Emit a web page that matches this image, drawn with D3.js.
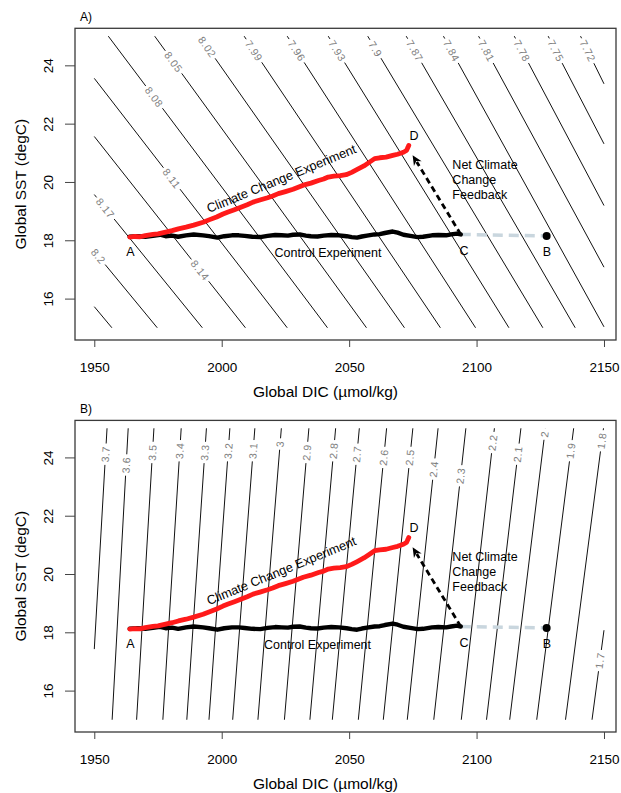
<!DOCTYPE html>
<html><head><meta charset="utf-8">
<script src="https://cdn.jsdelivr.net/npm/d3@7"></script>
<style>body{margin:0;background:#fff}svg{display:block}text{font-family:"Liberation Sans",Arial,Helvetica,sans-serif}</style>
</head><body><svg id="c" width="621" height="793"></svg>
<script>
// ---------------- data ----------------
const xTicks = [1950, 2000, 2050, 2100, 2150];
const yTicks = [16, 18, 20, 22, 24];
const gridDic = [1950, 2150];
const gridSst = [15, 25];

// Panel A: pH contours (DIC at SST=25 and at SST=15, label SST)
const phLevels   = ["8.23","8.2","8.17","8.14","8.11","8.08","8.05","8.02","7.99","7.96","7.93","7.9","7.87","7.84","7.81","7.78","7.75","7.72"];
const phDicTop   = [1861.5,1880.4,1899.6,1918.9,1937.2,1955.5,1973.7,1991.3,2008.8,2025.7,2041.8,2057.3,2072.4,2087.0,2100.8,2114.8,2128.1,2140.8];
const phDicBot   = [1956.9,1974.7,1992.4,2009.3,2025.7,2041.5,2056.8,2071.7,2085.8,2099.6,2112.7,2126.0,2138.7,2150.2,2162.9,2175.4,2187.4,2197.1];
const phLabelSst = [null,17.45,19.1,16.97,20.12,22.91,24.11,24.63,24.5,24.5,24.5,24.56,24.5,24.5,24.5,24.5,24.5,24.5];

// Panel B: saturation-state contours
const omLevels   = ["3.7","3.6","3.5","3.4","3.3","3.2","3.1","3","2.9","2.8","2.7","2.6","2.5","2.4","2.3","2.2","2.1","2","1.9","1.8","1.7"];
const omDicTop   = [1955.0,1963.3,1973.4,1984.1,1994.0,2003.2,2013.0,2023.4,2034.2,2044.7,2054.0,2064.7,2075.0,2084.9,2095.8,2107.0,2117.4,2127.0,2138.1,2149.8,2160.6];
const omDicBot   = [1948.4,1957.0,1966.6,1976.9,1986.3,1995.0,2004.3,2014.2,2024.6,2034.6,2043.4,2053.6,2063.4,2072.8,2083.2,2094.0,2103.9,2113.0,2123.6,2134.9,2145.3];
const omLabelSst = [24.11,23.74,24.17,24.23,24.17,24.23,24.23,24.46,24.17,24.23,24.11,24.0,24.0,23.6,23.37,24.51,24.11,24.8,24.23,24.57,17.03];

// Control experiment (DIC, SST)
const ctrlDic = [1963.9,1967,1970,1973,1975.8,1978,1980.5,1982.9,1986,1989,1992.7,1995,1998.3,2001,2004,2006.7,2009,2012,2015.1,2018,2021,2023.5,2026,2028,2030.6,2033,2035,2037.6,2040,2043,2046,2049,2051,2053.1,2055,2057,2060,2062,2064,2067.1,2069,2071.3,2074,2076.9,2079,2082.5,2085,2088.1,2090,2092.3,2093.8];
const ctrlSst = [18.12,18.14,18.12,18.15,18.19,18.14,18.16,18.12,18.17,18.2,18.17,18.14,18.09,18.14,18.17,18.17,18.15,18.12,18.11,18.15,18.18,18.17,18.16,18.19,18.2,18.16,18.14,18.13,18.16,18.18,18.17,18.14,18.11,18.09,18.13,18.16,18.2,18.21,18.25,18.3,18.26,18.19,18.15,18.11,18.12,18.17,18.18,18.17,18.2,18.23,18.2];

// Climate change experiment (DIC, SST)
const ccDic = [1963.9,1966,1968,1970,1973,1975,1978,1980.5,1983,1986,1989,1992.7,1995,1998,2000.5,2002.5,2005,2008,2010,2012.3,2015,2018,2020,2022.2,2025,2028,2030,2032,2035,2038,2040,2041.8,2044,2046.5,2048.8,2051,2053,2055.8,2058,2060,2062,2064.5,2067.1,2069,2071.3,2072.5,2073.4,2073.0];
const ccSst = [18.11,18.13,18.12,18.16,18.2,18.22,18.28,18.33,18.39,18.45,18.52,18.62,18.7,18.8,18.9,18.97,19.05,19.15,19.22,19.31,19.38,19.46,19.52,19.6,19.67,19.75,19.82,19.89,19.96,20.05,20.1,20.17,20.2,20.22,20.25,20.33,20.42,20.55,20.68,20.8,20.83,20.85,20.91,20.95,21.02,21.08,21.25,21.18];

// Key points
const pointC = [2093.8, 18.2];
const pointB = [2127.5, 18.15];
const arrowTip = [2074.9, 20.92];
const letterNames = ["A", "B", "C", "D"];
const letterDic = [1964.2, 2127.6, 2095.1, 2075.5];
const letterSst = [17.62, 17.62, 17.66, 21.58];
const feedbackLines = ["Net Climate", "Change", "Feedback"];
const feedbackAt = [2090.5, 20.07];
const ccLabelAt = [2023.4, 20.12];
const ctrlLabelDic = [2041.7, 2037.6];
const ctrlLabelSst = 17.57;

// ---------------- drawing ----------------
const svg = d3.select("#c");
const x = d3.scaleLinear().domain([1942.43, 2154.71]).range([75, 616]);
const panels = [
  {top: 28.3, bottom: 340, tag: "A)", levels: phLevels, dTop: phDicTop, dBot: phDicBot, lab: phLabelSst, ctrlIdx: 0},
  {top: 420.4, bottom: 732, tag: "B)", levels: omLevels, dTop: omDicTop, dBot: omDicBot, lab: omLabelSst, ctrlIdx: 1}
];

panels.forEach(p => {
  const y = d3.scaleLinear().domain([14.58, 25.27]).range([p.bottom, p.top]);
  const g = svg.append("g");

  // contours
  const cg = g.append("g");
  p.levels.forEach((lev, i) => {
    const a = p.dTop[i], b = p.dBot[i];
    const dic = t => a + (b - a) * t;
    const sst = t => gridSst[1] - (gridSst[1] - gridSst[0]) * t;
    let lo = 0, hi = 1;
    if (b !== a) {
      const tA = (gridDic[0] - a) / (b - a), tB = (gridDic[1] - a) / (b - a);
      lo = Math.max(0, Math.min(tA, tB)); hi = Math.min(1, Math.max(tA, tB));
    }
    if (hi <= lo) return;
    const P0 = [x(dic(lo)), y(sst(lo))], P1 = [x(dic(hi)), y(sst(hi))];
    const dx = P1[0] - P0[0], dy = P1[1] - P0[1], len = Math.hypot(dx, dy);
    const u = [dx / len, dy / len];
    const seg = (A, B) => cg.append("line").attr("x1", A[0]).attr("y1", A[1]).attr("x2", B[0]).attr("y2", B[1])
      .attr("stroke", "#111").attr("stroke-width", 1);
    const ls = p.lab[i];
    if (ls === null) { seg(P0, P1); return; }
    const tl = (gridSst[1] - ls) / (gridSst[1] - gridSst[0]);
    const PL = [x(dic(tl)), y(ls)];
    let ang = Math.atan2(u[1], u[0]) * 180 / Math.PI;
    if (ang > 90) ang -= 180; if (ang < -90) ang += 180;
    const txt = cg.append("text").text(lev)
      .attr("transform", `translate(${PL[0]},${PL[1]}) rotate(${ang})`)
      .attr("text-anchor", "middle").attr("dy", "0.36em")
      .attr("font-size", 10.5).attr("fill", "#808080").attr("letter-spacing", 0.6);
    const half = txt.node().getComputedTextLength() / 2 + 2.5;
    const dL = (PL[0] - P0[0]) * u[0] + (PL[1] - P0[1]) * u[1];
    if (dL - half > 0) seg(P0, [PL[0] - half * u[0], PL[1] - half * u[1]]);
    if (len - dL - half > 0) seg([PL[0] + half * u[0], PL[1] + half * u[1]], P1);
  });

  // gray dashed C -> B
  g.append("line").attr("x1", x(pointC[0])).attr("y1", y(pointC[1])).attr("x2", x(pointB[0])).attr("y2", y(pointB[1]))
    .attr("stroke", "#c9d6de").attr("stroke-width", 3.5).attr("stroke-dasharray", "10,6");

  const line = d3.line().x(d => x(d[0])).y(d => y(d[1]));
  // control
  g.append("path").datum(ctrlDic.map((d, i) => [d, ctrlSst[i]])).attr("d", line)
    .attr("fill", "none").attr("stroke", "#000").attr("stroke-width", 4.4).attr("stroke-linejoin", "round").attr("stroke-linecap", "round");
  // climate change
  g.append("path").datum(ccDic.map((d, i) => [d, ccSst[i]])).attr("d", line)
    .attr("fill", "none").attr("stroke", "#ff1a1a").attr("stroke-width", 4.8).attr("stroke-linejoin", "round").attr("stroke-linecap", "round");

  // arrow C -> D
  const S = [x(pointC[0]), y(pointC[1])], T = [x(arrowTip[0]), y(arrowTip[1])];
  const adx = T[0] - S[0], ady = T[1] - S[1], al = Math.hypot(adx, ady);
  const au = [adx / al, ady / al], an = [-au[1], au[0]];
  const hl = 10, hw = 4.5;
  const base = [T[0] - hl * au[0], T[1] - hl * au[1]];
  g.append("line").attr("x1", S[0]).attr("y1", S[1]).attr("x2", base[0] + 2 * au[0]).attr("y2", base[1] + 2 * au[1])
    .attr("stroke", "#000").attr("stroke-width", 2.8).attr("stroke-dasharray", "6,4");
  g.append("path").attr("d", `M${T[0]},${T[1]}L${base[0] + hw * an[0]},${base[1] + hw * an[1]}L${base[0] + 3 * au[0]},${base[1] + 3 * au[1]}L${base[0] - hw * an[0]},${base[1] - hw * an[1]}Z`)
    .attr("fill", "#000");

  // B dot
  g.append("circle").attr("cx", x(pointB[0])).attr("cy", y(pointB[1])).attr("r", 4).attr("fill", "#000");

  // annotations
  letterNames.forEach((n, i) => {
    g.append("text").text(n).attr("x", x(letterDic[i])).attr("y", y(letterSst[i])).attr("dy", "0.36em")
      .attr("text-anchor", "middle").attr("font-size", 12.5).attr("fill", "#000");
  });
  feedbackLines.forEach((t, i) => {
    g.append("text").text(t).attr("x", x(feedbackAt[0])).attr("y", y(feedbackAt[1]) + (i - 1) * 15).attr("dy", "0.36em")
      .attr("font-size", 12.5).attr("fill", "#000");
  });
  g.append("text").text("Control Experiment").attr("x", x(ctrlLabelDic[p.ctrlIdx])).attr("y", y(ctrlLabelSst)).attr("dy", "0.36em")
    .attr("text-anchor", "middle").attr("font-size", 12.5).attr("fill", "#000");
  g.append("text").text("Climate Change Experiment")
    .attr("transform", `translate(${x(ccLabelAt[0])},${y(ccLabelAt[1])}) rotate(-22.3)`).attr("dy", "0.36em")
    .attr("text-anchor", "middle").attr("font-size", 12.8).attr("fill", "#000");

  // box
  g.append("rect").attr("x", 75).attr("y", p.top).attr("width", 541).attr("height", p.bottom - p.top)
    .attr("fill", "none").attr("stroke", "#3a3a3a").attr("stroke-width", 1.3);

  // x axis
  const xa = g.append("g").attr("transform", `translate(0,${p.bottom})`)
    .call(d3.axisBottom(x).tickValues(xTicks).tickSize(7).tickSizeOuter(0).tickFormat(d3.format("d")));
  xa.select(".domain").remove();
  xa.selectAll(".tick line").attr("stroke", "#444");
  xa.selectAll(".tick text").attr("y", 26.7).attr("dy", "0.36em").attr("font-size", 13.5).attr("fill", "#000")
    .attr("font-family", '"Liberation Sans",Arial,sans-serif');
  g.append("text").text("Global DIC (\u00b5mol/kg)").attr("x", (75 + 616) / 2 - 20).attr("y", p.bottom + 51).attr("dy", "0.36em")
    .attr("text-anchor", "middle").attr("font-size", 15.5).attr("fill", "#000");

  // y axis
  const ya = g.append("g").attr("transform", "translate(75,0)")
    .call(d3.axisLeft(y).tickValues(yTicks).tickSize(10).tickSizeOuter(0).tickFormat(d3.format("d")));
  ya.select(".domain").remove();
  ya.selectAll(".tick line").attr("stroke", "#444");
  ya.selectAll(".tick text").attr("x", null).attr("dy", null)
    .attr("transform", "translate(-27,0) rotate(-90)").attr("text-anchor", "middle").attr("dy", "0.36em")
    .attr("font-size", 13.5).attr("fill", "#000").attr("font-family", '"Liberation Sans",Arial,sans-serif');
  g.append("text").text("Global SST (degC)")
    .attr("transform", `translate(20,${(p.top + p.bottom) / 2}) rotate(-90)`).attr("dy", "0.36em")
    .attr("text-anchor", "middle").attr("font-size", 15.5).attr("fill", "#000");

  // panel tag
  g.append("text").text(p.tag).attr("x", 80).attr("y", p.top - 12).attr("dy", "0.36em")
    .attr("font-size", 12).attr("fill", "#000");
});
</script>
</body></html>
